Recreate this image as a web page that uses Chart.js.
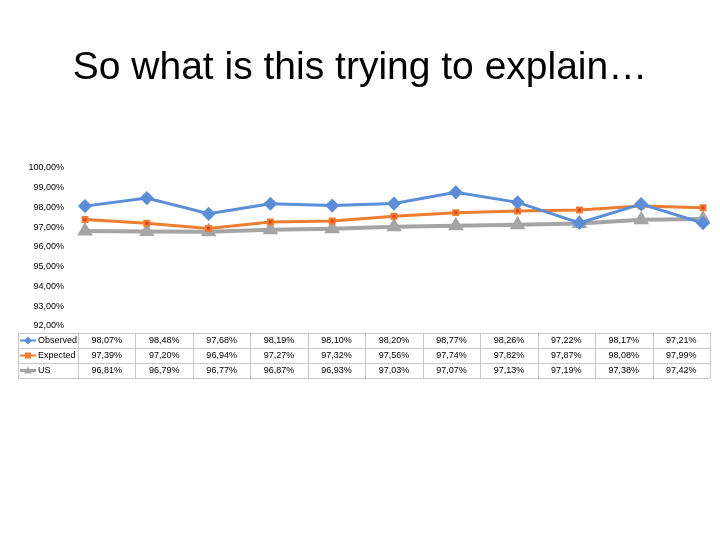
<!DOCTYPE html>
<html><head><meta charset="utf-8">
<script src="https://cdn.jsdelivr.net/npm/chart.js@4"></script>
<style>body{margin:0;background:#fff}canvas{display:block}</style>
</head><body>
<canvas id="chart" width="720" height="540"></canvas>
<script>
var categories = ['1','2','3','4','5','6','7','8','9','10','11'];
var observed = [98.07, 98.48, 97.68, 98.19, 98.10, 98.20, 98.77, 98.26, 97.22, 98.17, 97.21];
var expected = [97.39, 97.20, 96.94, 97.27, 97.32, 97.56, 97.74, 97.82, 97.87, 98.08, 97.99];
var us = [96.81, 96.79, 96.77, 96.87, 96.93, 97.03, 97.07, 97.13, 97.19, 97.38, 97.42];
var seriesNames = ['Observed', 'Expected', 'US'];
var colors = ['#5B8ED6', '#ED7D31', '#A5A5A5'];

function fmt(v) { return v.toFixed(2).replace('.', ',') + '%'; }

var tablePlugin = {
    id: 'extras',
    afterDraw: function(chart) {
        var c = chart.ctx;
        c.save();
        c.fillStyle = '#000';
        c.font = '39px "Liberation Sans", sans-serif';
        c.textAlign = 'center';
        c.textBaseline = 'middle';
        c.fillText('So what is this trying to explain…', 360, 68);
        // table
        var left = 78, right = 710, top = 333, rowH = 15;
        var colW = (right - left) / categories.length;
        c.strokeStyle = '#c8c8c8';
        c.lineWidth = 1;
        for (var r = 0; r <= 3; r++) {
            c.beginPath(); c.moveTo(18, top + r * rowH + 0.5); c.lineTo(right, top + r * rowH + 0.5); c.stroke();
        }
        for (var k = 0; k <= categories.length; k++) {
            var x = Math.round(left + k * colW) + 0.5;
            c.beginPath(); c.moveTo(x, top); c.lineTo(x, top + 3 * rowH); c.stroke();
        }
        c.beginPath(); c.moveTo(18.5, top); c.lineTo(18.5, top + 3 * rowH); c.stroke();
        c.font = '9px "Liberation Sans", sans-serif';
        var rows = [observed, expected, us];
        rows.forEach(function(vals, r) {
            var y = top + r * rowH + rowH / 2;
            c.fillStyle = '#000';
            c.textAlign = 'left';
            c.fillText(seriesNames[r], 38, y);
            c.strokeStyle = colors[r];
            c.lineWidth = r === 2 ? 3 : 2;
            c.beginPath(); c.moveTo(20, y); c.lineTo(36, y); c.stroke();
            c.fillStyle = colors[r];
            c.beginPath();
            if (r === 0) { c.moveTo(28, y - 4); c.lineTo(32, y); c.lineTo(28, y + 4); c.lineTo(24, y); }
            else if (r === 1) { c.rect(25, y - 3, 6, 6); }
            else { c.moveTo(28, y - 4); c.lineTo(32, y + 3); c.lineTo(24, y + 3); }
            c.closePath(); c.fill();
            c.fillStyle = '#000';
            c.textAlign = 'center';
            vals.forEach(function(v, i) { c.fillText(fmt(v), left + colW * (i + 0.5), y); });
        });
        c.restore();
    }
};

var ctx = document.getElementById('chart').getContext('2d');
var chart = new Chart(ctx, {
    type: 'line',
    data: {
        labels: categories,
        datasets: [{
            label: seriesNames[0], data: observed, borderColor: colors[0], backgroundColor: colors[0],
            borderWidth: 3, pointStyle: 'rectRot', pointRadius: 5
        }, {
            label: seriesNames[1], data: expected, borderColor: colors[1], backgroundColor: '#E8401C',
            borderWidth: 3, pointStyle: 'rect', pointRadius: 3.5, pointBorderWidth: 2
        }, {
            label: seriesNames[2], data: us, borderColor: colors[2], backgroundColor: colors[2],
            borderWidth: 4, pointStyle: 'triangle', pointRadius: 5
        }]
    },
    options: {
        responsive: false,
        animation: false,
        layout: { padding: { top: 168, bottom: 214, right: 17, left: 0 } },
        plugins: { legend: { display: false }, tooltip: { enabled: false } },
        scales: {
            x: { display: false, offset: false },
            y: {
                min: 92, max: 100,
                afterFit: function(s) { s.width = 85; },
                border: { display: false },
                grid: { display: false },
                ticks: { stepSize: 1, color: '#000', font: { size: 9, family: '"Liberation Sans", sans-serif' },
                    padding: 13, callback: function(v) { return v.toFixed(2).replace('.', ',') + '%'; } }
            }
        }
    },
    plugins: [tablePlugin]
});
</script>
</body></html>
